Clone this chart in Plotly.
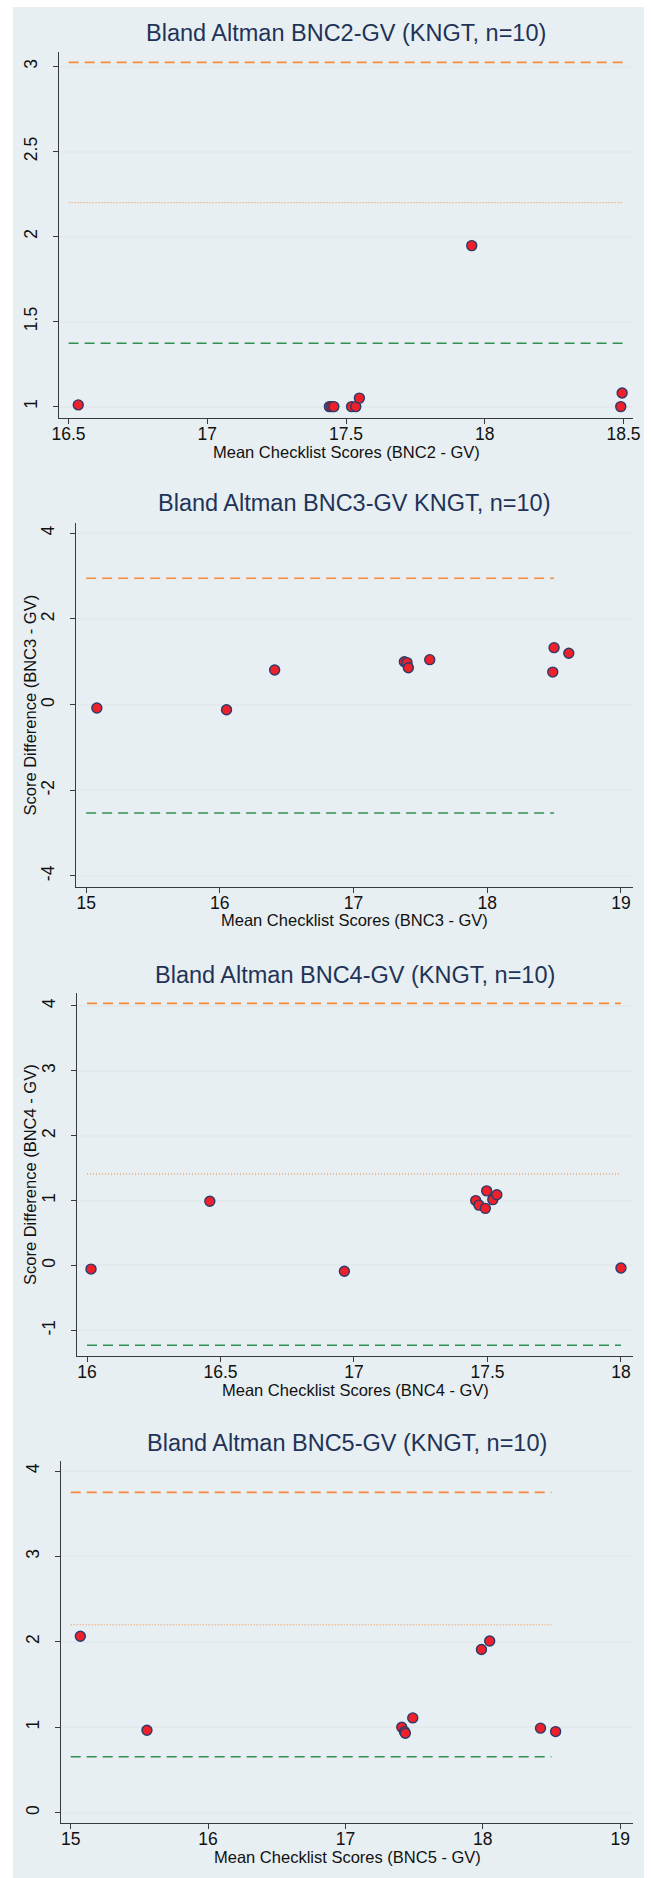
import plotly.graph_objects as go

W, H = 651, 1878

# ---------------- data ----------------
titles = [
    "Bland Altman BNC2-GV (KNGT, n=10)",
    "Bland Altman BNC3-GV KNGT, n=10)",
    "Bland Altman BNC4-GV (KNGT, n=10)",
    "Bland Altman BNC5-GV (KNGT, n=10)",
]
x_titles = [
    "Mean Checklist Scores (BNC2 - GV)",
    "Mean Checklist Scores (BNC3 - GV)",
    "Mean Checklist Scores (BNC4 - GV)",
    "Mean Checklist Scores (BNC5 - GV)",
]
y_titles = [None, "Score Difference (BNC3 - GV)", "Score Difference (BNC4 - GV)", None]

bnc2_mean = [16.535, 17.44, 17.448, 17.456, 17.52, 17.535, 17.548, 17.953, 18.49, 18.495]
bnc2_diff = [1.01, 1.00, 1.00, 1.00, 1.00, 1.00, 1.05, 1.947, 1.00, 1.08]

bnc3_mean = [15.08, 16.05, 16.41, 17.38, 17.40, 17.41, 17.57, 18.49, 18.50, 18.61]
bnc3_diff = [-0.08, -0.12, 0.81, 1.00, 0.98, 0.86, 1.05, 0.76, 1.33, 1.20]

bnc4_mean = [16.015, 16.46, 16.964, 17.456, 17.468, 17.492, 17.497, 17.52, 17.535, 18.0]
bnc4_diff = [-0.056, 0.99, -0.09, 1.00, 0.93, 0.88, 1.15, 1.015, 1.09, -0.04]

bnc5_mean = [15.07, 15.555, 17.41, 17.43, 17.436, 17.49, 17.99, 18.05, 18.42, 18.53]
bnc5_diff = [2.066, 0.965, 1.00, 0.95, 0.93, 1.11, 1.91, 2.01, 0.99, 0.95]

upper_loa = [3.025, 2.95, 4.04, 3.75]
mean_diff = [2.2, None, 1.41, 2.2]
lower_loa = [1.373, -2.53, -1.23, 0.656]
line_span = [[16.5, 18.5], [15, 18.5], [16, 18], [15, 18.5]]

x_tick_vals = [[16.5, 17, 17.5, 18, 18.5], [15, 16, 17, 18, 19], [16, 16.5, 17, 17.5, 18], [15, 16, 17, 18, 19]]
x_tick_text = [["16.5", "17", "17.5", "18", "18.5"], ["15", "16", "17", "18", "19"],
               ["16", "16.5", "17", "17.5", "18"], ["15", "16", "17", "18", "19"]]
y_tick_vals = [[1, 1.5, 2, 2.5, 3], [-4, -2, 0, 2, 4], [-1, 0, 1, 2, 3, 4], [0, 1, 2, 3, 4]]
y_tick_text = [["1", "1.5", "2", "2.5", "3"], ["-4", "-2", "0", "2", "4"],
               ["-1", "0", "1", "2", "3", "4"], ["0", "1", "2", "3", "4"]]

xs = [bnc2_mean, bnc3_mean, bnc4_mean, bnc5_mean]
ys = [bnc2_diff, bnc3_diff, bnc4_diff, bnc5_diff]

# ---------------- layout / style ----------------
BG = "#e8eff2"
GRID = "#e2eaee"
AXIS = "#3a3a3a"
TITLE_C = "#1f3358"
RED = "#ee2029"
NAVY = "#2b3b6c"
ORANGE = "#f58b3a"
GREEN = "#2e9152"
FONT = "Liberation Sans, Arial, sans-serif"

# plot boxes in pixels: left, right, top, bottom
boxes = [(53, 640, 52, 418), (70.5, 640, 523, 887), (71.4, 640, 993, 1356), (55, 640, 1461, 1823)]
x_ranges = [[16.465, 18.535], [14.924, 19.092], [15.962, 18.046], [14.928, 19.095]]
y_ranges = [[0.933, 3.086], [-4.257, 4.24], [-1.396, 4.2], [-0.12, 4.117]]
title_y = [33, 503, 975, 1443]
xtitle_y = [452, 920, 1390, 1857]
ytitle_x = 23


def px(v):
    return v / W


def py(v):
    return 1 - v / H


fig = go.Figure()
layout = dict(
    width=W, height=H, margin=dict(l=0, r=0, t=0, b=0),
    paper_bgcolor="white", plot_bgcolor="white", showlegend=False,
    font=dict(family=FONT, size=16, color="#111111"),
    shapes=[dict(type="rect", xref="paper", yref="paper", x0=6 / W, x1=1, y0=0, y1=1 - 7 / H,
                 fillcolor=BG, line=dict(width=0), layer="below")],
    annotations=[],
)

for i in range(4):
    n = "" if i == 0 else str(i + 1)
    xa, ya = "x" + n, "y" + n
    l, r, t, b = boxes[i]
    layout["xaxis" + n] = dict(
        domain=[px(l), px(r)], range=x_ranges[i], anchor=ya,
        tickvals=x_tick_vals[i], ticktext=x_tick_text[i],
        ticks="outside", ticklen=5, tickcolor=AXIS, tickwidth=1,
        showline=True, linecolor=AXIS, linewidth=1, showgrid=False, zeroline=False,
        tickfont=dict(size=17.5, color="#111111"), ticklabelstandoff=-5,
    )
    layout["yaxis" + n] = dict(
        domain=[py(b), py(t)], range=y_ranges[i], anchor=xa,
        tickvals=y_tick_vals[i], ticktext=y_tick_text[i], tickangle=-90,
        ticks="outside", ticklen=5, tickcolor=AXIS, tickwidth=1,
        showline=True, linecolor=AXIS, linewidth=1,
        showgrid=True, gridcolor=GRID, gridwidth=1.5, zeroline=False,
        tickfont=dict(size=17.5, color="#111111"), ticklabelstandoff=9,
    )
    cx = px((l + r) / 2)
    layout["annotations"].append(dict(
        text=titles[i], xref="paper", yref="paper", x=cx, y=py(title_y[i]),
        xanchor="center", yanchor="middle", showarrow=False,
        font=dict(size=23.5, color=TITLE_C, family=FONT)))
    layout["annotations"].append(dict(
        text=x_titles[i], xref="paper", yref="paper", x=cx, y=py(xtitle_y[i]),
        xanchor="center", yanchor="middle", showarrow=False,
        font=dict(size=16.5, color="#111111", family=FONT)))
    if y_titles[i]:
        layout["annotations"].append(dict(
            text=y_titles[i], xref="paper", yref="paper", x=px(ytitle_x), y=py((t + b) / 2),
            xanchor="center", yanchor="middle", textangle=-90, showarrow=False,
            font=dict(size=16.5, color="#111111", family=FONT)))

    x0, x1 = line_span[i]
    fig.add_trace(go.Scatter(x=[x0, x1], y=[upper_loa[i]] * 2, mode="lines", xaxis=xa, yaxis=ya,
                             line=dict(color=ORANGE, width=1.6, dash="10px,6px")))
    if mean_diff[i] is not None:
        fig.add_trace(go.Scatter(x=[x0, x1], y=[mean_diff[i]] * 2, mode="lines", xaxis=xa, yaxis=ya,
                                 line=dict(color=ORANGE, width=1, dash="1px,2px")))
    fig.add_trace(go.Scatter(x=[x0, x1], y=[lower_loa[i]] * 2, mode="lines", xaxis=xa, yaxis=ya,
                             line=dict(color=GREEN, width=1.6, dash="10px,6px")))
    fig.add_trace(go.Scatter(x=xs[i], y=ys[i], mode="markers", xaxis=xa, yaxis=ya,
                             marker=dict(size=10, color=RED, line=dict(color=NAVY, width=1.4))))

fig.update_layout(**layout)
fig.write_html("out.html", config={"displayModeBar": False},
               post_script="document.body.style.margin='0';")
